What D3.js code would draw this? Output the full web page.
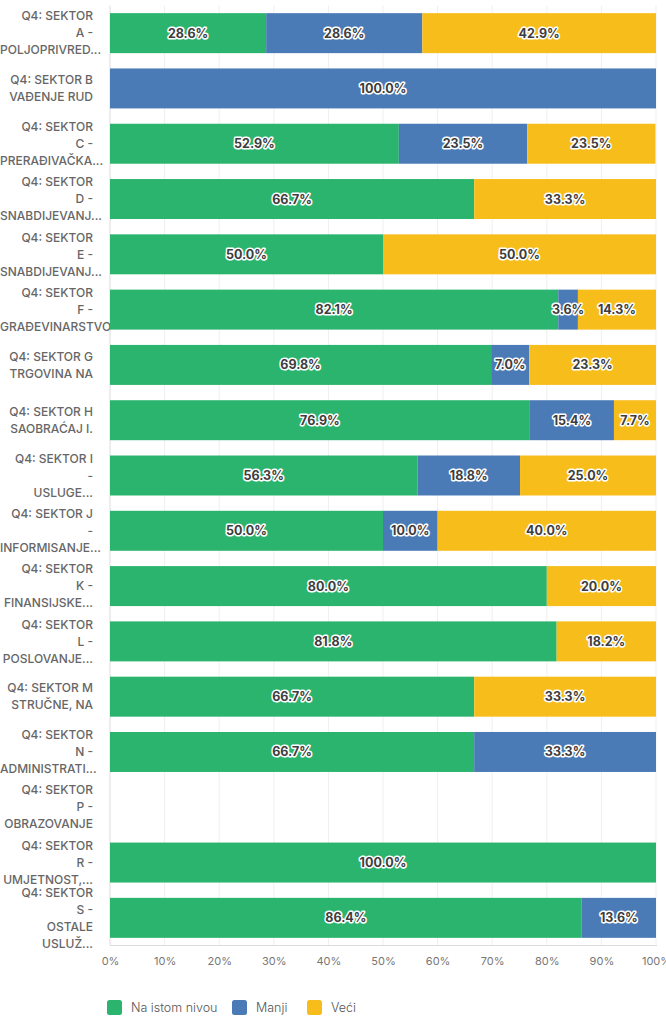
<!DOCTYPE html>
<html>
<head>
<meta charset="utf-8">
<script src="https://cdn.jsdelivr.net/npm/d3@7"></script>
<style>
  html, body { margin: 0; padding: 0; background: #fff; }
  svg { display: block; font-family: Inter, "Open Sans", sans-serif; }
</style>
</head>
<body>
<svg id="chart" width="666" height="1016"></svg>
<script>
// Sector label lines (as wrapped on the axis)
const sectorLabels = [
  ["Q4: SEKTOR", "A -", "POLJOPRIVRED..."],
  ["Q4: SEKTOR B", "VAĐENJE RUD"],
  ["Q4: SEKTOR", "C -", "PRERAĐIVAČKA..."],
  ["Q4: SEKTOR", "D -", "SNABDIJEVANJ..."],
  ["Q4: SEKTOR", "E -", "SNABDIJEVANJ..."],
  ["Q4: SEKTOR", "F -", "GRAĐEVINARSTVO"],
  ["Q4: SEKTOR G", "TRGOVINA NA"],
  ["Q4: SEKTOR H", "SAOBRAĆAJ I."],
  ["Q4: SEKTOR I", "-", "USLUGE..."],
  ["Q4: SEKTOR J", "-", "INFORMISANJE..."],
  ["Q4: SEKTOR", "K -", "FINANSIJSKE..."],
  ["Q4: SEKTOR", "L -", "POSLOVANJE..."],
  ["Q4: SEKTOR M", "STRUČNE, NA"],
  ["Q4: SEKTOR", "N -", "ADMINISTRATI..."],
  ["Q4: SEKTOR", "P -", "OBRAZOVANJE"],
  ["Q4: SEKTOR", "R -", "UMJETNOST,..."],
  ["Q4: SEKTOR", "S -", "OSTALE", "USLUŽ..."]
];

const sectors = ["A","B","C","D","E","F","G","H","I","J","K","L","M","N","P","R","S"];

// Share of answers per sector (%)
const naIstomNivou = [28.6, 0, 52.9, 66.7, 50.0, 82.1, 69.8, 76.9, 56.3, 50.0, 80.0, 81.8, 66.7, 66.7, 0, 100.0, 86.4];
const manji        = [28.6, 100.0, 23.5, 0, 0, 3.6, 7.0, 15.4, 18.8, 10.0, 0, 0, 0, 33.3, 0, 0, 13.6];
const veci         = [42.9, 0, 23.5, 33.3, 50.0, 14.3, 23.3, 7.7, 25.0, 40.0, 20.0, 18.2, 33.3, 0, 0, 0, 0];

const seriesNames = ["Na istom nivou", "Manji", "Veći"];
const seriesColors = ["#2bb46e", "#4b7bb7", "#f6bd1b"];
const xTicks = [0, 10, 20, 30, 40, 50, 60, 70, 80, 90, 100];

const rows = sectors.map((s, i) => ({
  sector: s,
  lines: sectorLabels[i],
  "Na istom nivou": naIstomNivou[i],
  "Manji": manji[i],
  "Veći": veci[i]
}));

const svg = d3.select("#chart");
const plotLeft = 110, plotRight = 656, plotTop = 5.5, plotBottom = 945.5;

const x = d3.scaleLinear().domain([0, 100]).range([plotLeft, plotRight]);
const y = d3.scaleBand().domain(sectors).range([plotTop, plotBottom])
  .paddingInner(0.277).paddingOuter(0.1385);
const color = d3.scaleOrdinal().domain(seriesNames).range(seriesColors);

// Vertical gridlines
svg.append("g").selectAll("line").data(xTicks).join("line")
  .attr("x1", d => x(d)).attr("x2", d => x(d))
  .attr("y1", plotTop).attr("y2", plotBottom)
  .attr("stroke", d => d === 0 ? "#dcdcdc" : "#efefef")
  .attr("stroke-width", 1);

// Bottom axis line
svg.append("line")
  .attr("x1", plotLeft).attr("x2", plotRight + 1)
  .attr("y1", plotBottom).attr("y2", plotBottom)
  .attr("stroke", "#dcdcdc");

// Category labels: short lines right-aligned, long lines start at the left edge
const labelRight = 93, lineH = 17;
const labelG = svg.append("g")
  .attr("font-size", 12).attr("font-weight", 500).attr("fill", "#666");
rows.forEach(r => {
  const cy = y(r.sector) + y.bandwidth() / 2;
  const n = r.lines.length;
  r.lines.forEach((ln, j) => {
    const t = labelG.append("text")
      .attr("y", cy + (j - (n - 1) / 2) * lineH)
      .attr("dy", "0.35em")
      .text(ln);
    const w = t.node().getComputedTextLength();
    t.attr("x", w > labelRight ? 0 : labelRight - w);
  });
});

// Stacked bars
const stack = d3.stack().keys(seriesNames);
const stacked = stack(rows);

const layers = svg.append("g").selectAll("g").data(stacked).join("g")
  .attr("fill", d => color(d.key));

layers.selectAll("rect").data(d => d.filter(p => p[1] - p[0] > 0)).join("rect")
  .attr("x", d => x(d[0]))
  .attr("width", d => x(Math.min(d[1], 100)) - x(d[0]))
  .attr("y", d => y(d.data.sector))
  .attr("height", y.bandwidth());

// Value labels with white halo
const valG = svg.append("g")
  .attr("font-size", 12.5).attr("font-weight", 700)
  .attr("text-anchor", "middle");
stacked.forEach(layer => {
  layer.filter(p => p[1] - p[0] > 0).forEach(p => {
    valG.append("text")
      .attr("x", x((p[0] + Math.min(p[1], 100)) / 2))
      .attr("y", y(p.data.sector) + y.bandwidth() / 2)
      .attr("dy", "0.36em")
      .attr("fill", "#3d3d3d")
      .attr("stroke", "#fff")
      .attr("stroke-width", 3)
      .attr("stroke-linejoin", "round")
      .attr("paint-order", "stroke")
      .text(d3.format(".1f")(p.data[layer.key]) + "%");
  });
});

// X axis tick labels
const xAxis = d3.axisBottom(x).tickValues(xTicks).tickFormat(d => d + "%").tickSize(0).tickPadding(12);
const ax = svg.append("g").attr("transform", `translate(0,${plotBottom})`).call(xAxis);
ax.select(".domain").remove();
ax.selectAll("text").attr("font-size", 11).attr("fill", "#777")
  .attr("font-family", "Inter, 'Open Sans', sans-serif");

// Legend
const legendX = [107, 232, 307];
const lg = svg.append("g").selectAll("g").data(seriesNames).join("g")
  .attr("transform", (d, i) => `translate(${legendX[i]},1000)`);
lg.append("rect").attr("width", 15).attr("height", 15).attr("rx", 2.5)
  .attr("fill", d => color(d));
lg.append("text").attr("x", 24).attr("y", 7.5).attr("dy", "0.35em")
  .attr("font-size", 12.5).attr("font-weight", 300).attr("fill", "#555")
  .text(d => d);
</script>
</body>
</html>
